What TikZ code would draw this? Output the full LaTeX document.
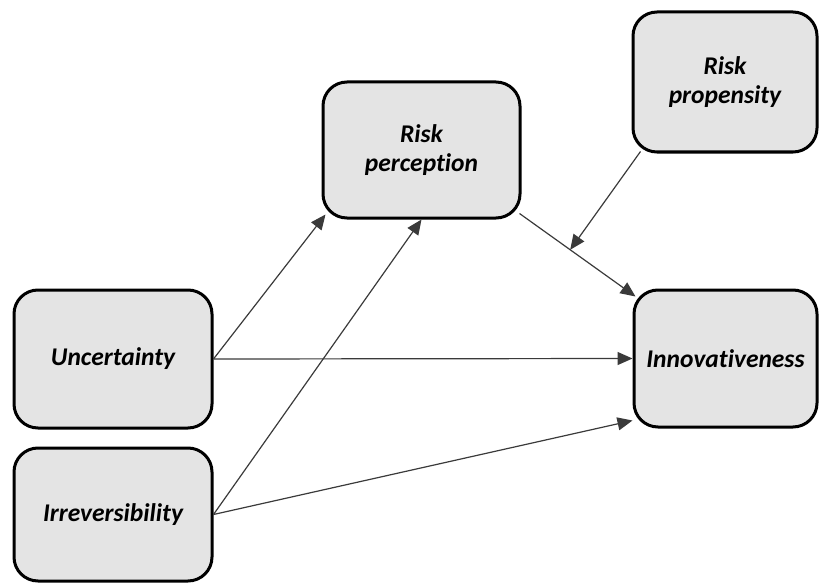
\documentclass[tikz,border=0pt]{standalone}
\usepackage{fontspec}
\setmainfont{Carlito}[Ligatures=NoCommon]
\usetikzlibrary{arrows.meta,calc}
\definecolor{boxfill}{HTML}{E4E4E4}
\definecolor{linkgray}{HTML}{3A3A3A}
\begin{document}
\begin{tikzpicture}[x=1pt,y=-1pt,
  construct/.style={draw=black, line width=3pt, fill=boxfill,
    rounded corners=24pt, align=center, inner sep=2pt,
    font=\fontsize{25.5}{29}\selectfont\bfseries\itshape},
  link/.style={draw=linkgray, line width=1.2pt,
    -{Triangle[length=15pt,width=13pt]}}]
  \useasboundingbox (0,0) rectangle (819,583);

  % constructs
  \node[construct, minimum width=197pt, minimum height=136pt] (rp)  at (421.5,150) {Risk\\perception};
  \node[construct, minimum width=184pt, minimum height=140pt] (prop) at (725,82) {Risk\\propensity};
  \node[construct, minimum width=198pt, minimum height=138pt] (unc) at (113,359) {Uncertainty};
  \node[construct, minimum width=183pt, minimum height=137pt] (inn) at (725.5,358.5) {Innovativeness};
  \node[construct, minimum width=198pt, minimum height=133pt] (irr) at (113,514.5) {Irreversibility};

  % anchor points on rounded corners
  \coordinate (rpIn)   at ($(rp.south west)+(4,-5)$);
  \coordinate (rpOut)  at ($(rp.south east)+(-2,-6)$);
  \coordinate (innTop) at ($(inn.north west)+(3,8)$);
  \coordinate (innLow) at ($(inn.south west)+(0,-8)$);
  \coordinate (propOut) at ($(prop.south west)+(9,-2)$);
  \coordinate (moderate) at ($(rpOut)!0.437!(innTop)$);

  % paths
  \draw[link] (unc.east) -- (rpIn);
  \draw[link] (unc.east) -- (inn.west);
  \draw[link] (irr.east) -- (rp.south);
  \draw[link] (irr.east) -- (innLow);
  \draw[link] (rpOut) -- (innTop);
  \draw[link] (propOut) -- (moderate);
\end{tikzpicture}
\end{document}
